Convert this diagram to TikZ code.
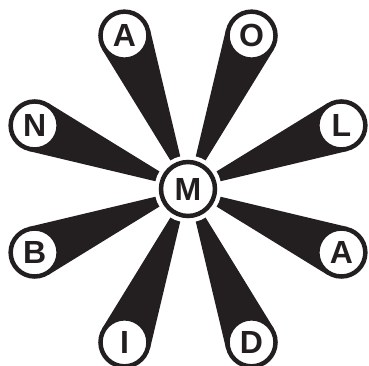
\documentclass[tikz,border=0pt]{standalone}
\usepackage{fontspec}
\setmainfont{Liberation Sans}
\usetikzlibrary{calc, backgrounds}

\definecolor{ink}{RGB}{35,31,32}

\tikzset{
  letter/.style={circle, draw=ink, fill=white, text=ink, line width=4.5pt,
    minimum size=48pt, inner sep=0pt,
    font=\fontsize{32}{32}\selectfont\bfseries},
  hub/.style={letter, minimum size=54pt,
    preaction={draw=white, line width=13pt}},
  spoke/.style={fill=ink}
}

\begin{document}
\begin{tikzpicture}[x=1pt, y=1pt]

        % cornice fissa dell'immagine
        \useasboundingbox (0,0) rectangle (369,366);

        % ==========================================
        % CENTRO: lettera M
        % ==========================================
        \node[hub] (m) at (188,177) {M};

        % ==========================================
        % LETTERE ESTERNE (a passi di 45 gradi)
        % ==========================================
        \foreach \ang/\name/\txt in {22.5/l/L, 67.5/o/O, 112.5/a1/A, 157.5/n/N,
                                     202.5/b/B, 247.5/i/I, 292.5/d/D, 337.5/a2/A}
            \node[letter] (\name) at ($(m.center)+(\ang:166)$) {\txt};

        % ==========================================
        % RAGGI: cunei neri dal centro alle lettere
        % ==========================================
        \begin{scope}[on background layer]
            \foreach \name in {l, o, a1, n, b, i, d, a2}
                \fill[spoke] (m.center)
                    -- (tangent cs:node=\name, point={(m.center)}, solution=1)
                    -- (\name.center)
                    -- (tangent cs:node=\name, point={(m.center)}, solution=2)
                    -- cycle;
        \end{scope}

    \end{tikzpicture}
\end{document}
